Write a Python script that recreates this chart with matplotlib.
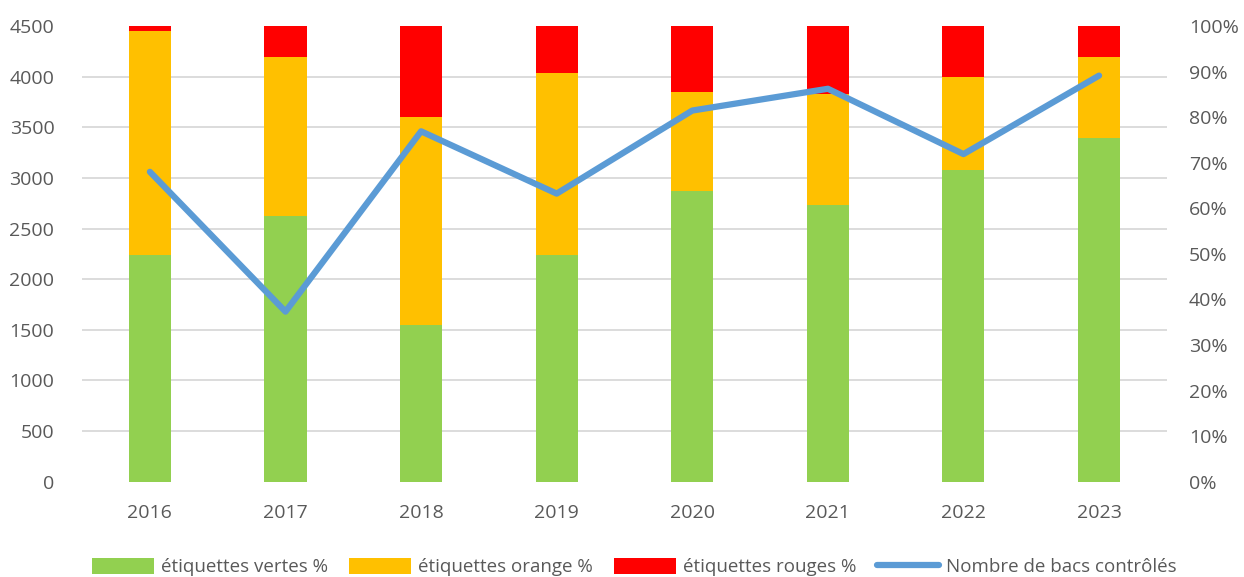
import matplotlib
matplotlib.use("Agg")
import matplotlib.pyplot as plt
import numpy as np
from matplotlib.ticker import FuncFormatter, MultipleLocator

plt.rcParams['font.family'] = ['Open Sans', 'DejaVu Sans']

# données
annees = ['2016', '2017', '2018', '2019', '2020', '2021', '2022', '2023']
vertes = [49.7, 58.4, 34.4, 49.7, 63.7, 60.7, 68.4, 75.4]
orange = [49.2, 34.8, 45.7, 40.0, 21.9, 24.3, 20.4, 17.8]
rouges = [1.1, 6.8, 19.9, 10.3, 14.4, 15.0, 11.2, 6.8]
bacs = [3060, 1680, 3460, 2845, 3665, 3880, 3235, 4010]

gris = '#595959'
max_bacs = 4500

fig = plt.figure(figsize=(12.44, 5.77), dpi=100)
ax = fig.add_axes([0.066, 0.165, 0.872, 0.79])
ax2 = ax.twinx()

x = range(len(annees))
bas_rouge = [v + o for v, o in zip(vertes, orange)]
b1 = ax2.bar(x, vertes, width=0.31, color='#92d050', zorder=2)
b2 = ax2.bar(x, orange, width=0.31, bottom=vertes, color='#ffc000', zorder=2)
b3 = ax2.bar(x, rouges, width=0.31, bottom=bas_rouge, color='#ff0000', zorder=2)

ligne, = ax.plot(x, bacs, color='#5b9bd5', lw=4.5, solid_capstyle='round', zorder=3)

# la courbe passe au-dessus des barres
ax.set_zorder(ax2.get_zorder() + 1)
ax.patch.set_visible(False)

ax.set_ylim(0, max_bacs)
ax.yaxis.set_major_locator(MultipleLocator(500))
ax2.set_ylim(0, 100)
ax2.yaxis.set_major_locator(MultipleLocator(10))
ax2.yaxis.set_major_formatter(FuncFormatter(lambda v, p: f"{v:.0f}%"))
ax.set_xlim(-0.5, len(annees) - 0.5)
ax.set_xticks(list(x))
ax.set_xticklabels(annees)

# quadrillage de l'axe gauche, dessiné derrière les barres
ax2.set_yticks(np.arange(0, max_bacs + 1, 500) * 100 / max_bacs, minor=True)
ax2.grid(axis='y', which='minor', color='#d9d9d9', lw=1.3)
ax2.grid(axis='y', which='major', visible=False)
ax2.set_axisbelow(True)

for a in (ax, ax2):
    for s in a.spines.values():
        s.set_visible(False)
    a.tick_params(which='both', length=0, labelsize=14, colors=gris)
ax.tick_params(axis='y', pad=20)
ax.tick_params(axis='x', pad=16)
ax2.tick_params(axis='y', pad=16)

fig.legend([b1, b2, b3, ligne],
           ['étiquettes vertes %', 'étiquettes orange %', 'étiquettes rouges %',
            'Nombre de bacs contrôlés'],
           loc='lower center', bbox_to_anchor=(0.51, -0.028), ncol=4, frameon=False,
           fontsize=13.5, labelcolor=gris, handlelength=3.3, handleheight=0.9,
           columnspacing=1.1, handletextpad=0.4)

fig.savefig('out.png', dpi=100)
